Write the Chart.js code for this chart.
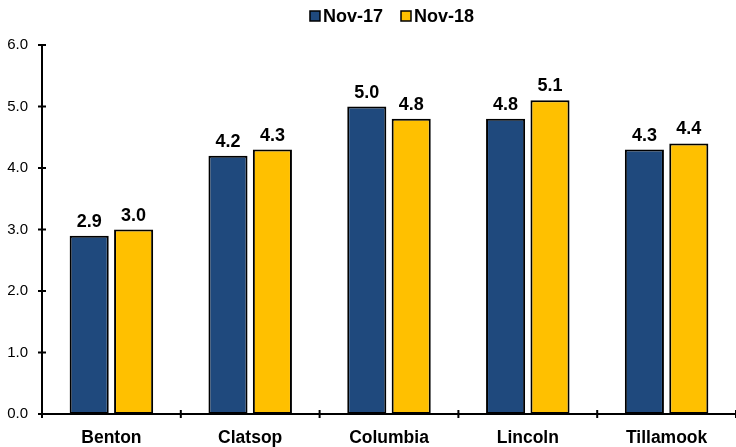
<!DOCTYPE html>
<html><head><meta charset="utf-8">
<script src="https://cdn.jsdelivr.net/npm/chart.js@4"></script>
<style>html,body{margin:0;padding:0;background:#fff}#wrap{width:736px;height:447px}</style>
</head><body><div id="wrap"><canvas id="c" width="736" height="447"></canvas></div>
<script>
const categories = ['Benton','Clatsop','Columbia','Lincoln','Tillamook'];
const seriesNames = ['Nov-17','Nov-18'];
const nov17 = [2.9,4.2,5.0,4.8,4.3];
const nov18 = [3.0,4.3,4.8,5.1,4.4];
const yTicks = [0,1,2,3,4,5,6];
const seriesColors = ['#1F497D','#FFC000'];

const FONT = "'Liberation Sans', Arial, sans-serif";

const labelsPlugin = {
  id:'valueLabels',
  afterDatasetsDraw(chart){
    const ctx = chart.ctx;
    ctx.save();
    ctx.font = "bold 18px " + FONT;
    ctx.fillStyle = '#000';
    ctx.textAlign = 'center';
    ctx.textBaseline = 'alphabetic';
    chart.data.datasets.forEach((ds,i)=>{
      chart.getDatasetMeta(i).data.forEach((bar,j)=>{
        ctx.fillText(ds.data[j].toFixed(1), bar.x, bar.y - 9);
      });
    });
    ctx.restore();
  }
};
const ticksPlugin = {
  id:'crossTicks',
  afterDraw(chart){
    const ctx = chart.ctx, x = chart.scales.x, y = chart.scales.y;
    ctx.save();
    ctx.strokeStyle = '#000'; ctx.lineWidth = 2;
    const x0 = chart.chartArea.left, y0 = chart.chartArea.bottom;
    yTicks.forEach(v=>{
      const py = y.getPixelForValue(v);
      ctx.beginPath(); ctx.moveTo(x0-4,py); ctx.lineTo(x0+4,py); ctx.stroke();
    });
    for(let k=0;k<=categories.length;k++){
      const px = x.getPixelForValue(k-0.5);
      ctx.beginPath(); ctx.moveTo(px,y0-4); ctx.lineTo(px,y0+4); ctx.stroke();
    }
    ctx.restore();
  }
};
const legendPlugin = {
  id:'customLegend',
  afterDraw(chart){
    const ctx = chart.ctx;
    ctx.save();
    ctx.font = "bold 18px " + FONT;
    ctx.textBaseline = 'middle';
    ctx.textAlign = 'left';
    const box = 10, gapBox = 3, gapItem = 18;
    const items = chart.data.datasets.map(d=>({t:d.label,c:d.backgroundColor,w:ctx.measureText(d.label).width}));
    let total = items.reduce((s,it)=>s+box+gapBox+it.w,0) + gapItem*(items.length-1);
    let x = (chart.width - total)/2 + 24;
    const cy = 16;
    items.forEach(it=>{
      ctx.fillStyle = it.c; ctx.fillRect(x, cy-5, box, box);
      ctx.strokeStyle = '#000'; ctx.lineWidth = 1.5; ctx.strokeRect(x, cy-5, box, box);
      ctx.fillStyle = '#000'; ctx.fillText(it.t, x+box+gapBox, cy+1);
      x += box+gapBox+it.w+gapItem;
    });
    ctx.restore();
  }
};

new Chart(document.getElementById('c'),{
  type:'bar',
  data:{
    labels:categories,
    datasets:[
      {label:seriesNames[0],data:nov17,backgroundColor:seriesColors[0],borderColor:'#000',borderWidth:2,borderSkipped:false},
      {label:seriesNames[1],data:nov18,backgroundColor:seriesColors[1],borderColor:'#000',borderWidth:2,borderSkipped:false}
    ]
  },
  options:{
    responsive:false,
    animation:false,
    devicePixelRatio:1,
    layout:{padding:{top:45,right:0,left:0,bottom:0}},
    datasets:{bar:{categoryPercentage:0.64,barPercentage:0.88}},
    plugins:{
      tooltip:{enabled:false},
      legend:{display:false}
    },
    scales:{
      x:{
        offset:true,
        grid:{display:false},
        border:{color:'#000',width:2},
        ticks:{color:'#000',font:{family:FONT,size:17.5,weight:'bold'},padding:6},
        afterFit(s){s.height=33;}
      },
      y:{
        min:0,max:6,
        grid:{display:false},
        border:{color:'#000',width:2},
        ticks:{stepSize:1,color:'#000',font:{family:FONT,size:15},padding:6,callback:v=>Number(v).toFixed(1)},
        afterFit(s){s.width=42;}
      }
    }
  },
  plugins:[labelsPlugin,ticksPlugin,legendPlugin]
});
</script></body></html>
